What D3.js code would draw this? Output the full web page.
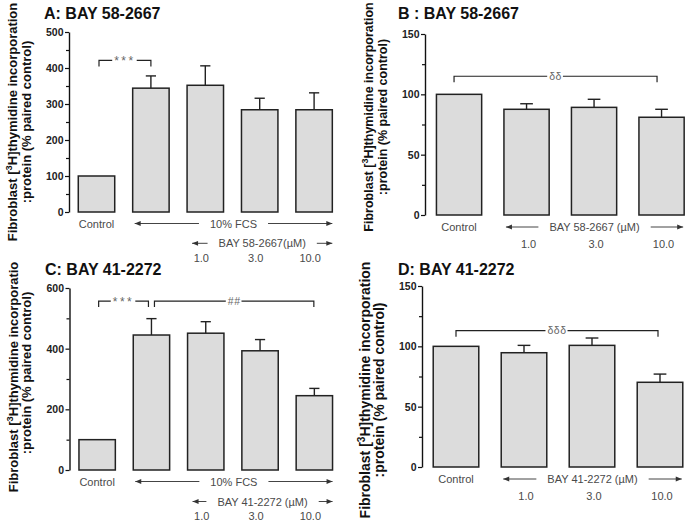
<!DOCTYPE html>
<html><head><meta charset="utf-8">
<script src="https://cdn.jsdelivr.net/npm/d3@7"></script>
<style>
body{margin:0;background:#fff}
svg{display:block}
text{font-family:"Liberation Sans",Arial,Helvetica,sans-serif}
</style>
</head><body>
<svg id="c" width="689" height="523"></svg>
<script>
// ---------- data ----------
const titles = ["A: BAY 58-2667", "B : BAY 58-2667", "C: BAY 41-2272", "D: BAY 41-2272"];
const groupsFCS = ["Control", "FCS", "FCS + 1.0", "FCS + 3.0", "FCS + 10.0"];
const groupsDose = ["Control", "1.0", "3.0", "10.0"];
const meanA = [100, 344, 352, 284, 284];
const semA  = [0, 34, 54, 32, 47];
const meanB = [100, 87.6, 89.2, 81.0];
const semB  = [0, 4.6, 6.7, 6.6];
const meanC = [100, 445, 451, 393, 245];
const semC  = [0, 54, 38, 37, 24];
const meanD = [100, 94.7, 100.8, 70.2];
const semD  = [0, 6.1, 6.1, 6.8];
const ticksA = [0, 100, 200, 300, 400, 500];
const ticksB = [0, 50, 100, 150];
const ticksC = [0, 200, 400, 600];
const ticksD = [0, 50, 100, 150];
const doseLabels = ["1.0", "3.0", "10.0"];
const fcsLabel = "10% FCS";
const drugA = "BAY 58-2667(\u00b5M)";
const drugB = "BAY 58-2667 (\u00b5M)";
const drugC = "BAY 41-2272 (\u00b5M)";
const drugD = "BAY 41-2272 (\u00b5M)";
const sigA = [{from: 0, to: 1, level: 421, label: "***"}];
const sigB = [{from: 0, to: 3, level: 115, label: "\u03b4\u03b4"}];
const sigC = [{from: 0, to: 1, level: 557, label: "***"}, {from: 1, to: 4, level: 557, label: "##"}];
const sigD = [{from: 0, to: 3, level: 113, label: "\u03b4\u03b4\u03b4"}];
const yLabel1a = "Fibroblast [", yLabelSup = "3", yLabel1b = "H]thymidine incorporation";
const yLabel2 = ":protein (% paired control)";

// ---------- layout ----------
const panels = [
  {mean: meanA, sem: semA, ticks: ticksA, groups: groupsFCS, sig: sigA, title: titles[0], drug: drugA, fcs: true,
   axisX: 69, xr: [69.3, 341.3], yr: [212, 32], tx: 44, ty: 19, lblCY: 122, lblSize: 13, rows: [223.5, 243.3, 258], clip: false,
   sigOff: [[2.5, 0]]},
  {mean: meanB, sem: semB, ticks: ticksB, groups: groupsDose, sig: sigB, title: titles[1], drug: drugB, fcs: false,
   axisX: 425, xr: [425.3, 695.3], yr: [215, 34], tx: 398, ty: 19, lblCY: 117, lblSize: 12.5, rows: [227, 243.5], clip: false,
   sigOff: [[-5, -4.5]]},
  {mean: meanC, sem: semC, ticks: ticksC, groups: groupsFCS, sig: sigC, title: titles[2], drug: drugC, fcs: true,
   axisX: 69.5, xr: [70, 341.5], yr: [470, 288], tx: 45, ty: 274.5, lblCY: 373, lblSize: 13, rows: [481.5, 501.5, 515.5], clip: true,
   sigOff: [[1.5, -3], [3, -0.5]]},
  {mean: meanD, sem: semD, ticks: ticksD, groups: groupsDose, sig: sigD, title: titles[3], drug: drugD, fcs: false,
   axisX: 422, xr: [422, 694], yr: [467, 286], tx: 398, ty: 275, lblCY: 390, lblSize: 14, rows: [479, 495.5], clip: true,
   sigOff: [[0, -2]]}
];

const svg = d3.select("#c");
svg.append("rect").attr("width", 689).attr("height", 523).attr("fill", "#fff");
const defs = svg.append("defs");
defs.append("clipPath").attr("id", "clipBottom").append("rect")
  .attr("x", 0).attr("y", 262).attr("width", 689).attr("height", 261);

const grayText = "#4a4a4a";
const catSize = 11;

function arrowHead(g, x, y, dir) {
  const L = 6, H = 2.4;
  g.append("path")
    .attr("d", `M${x},${y} L${x - dir * L},${y - H} L${x - dir * L},${y + H} Z`)
    .attr("fill", "#333");
}

function arrowLabel(g, x1, x2, y, label) {
  const t = g.append("text").attr("x", (x1 + x2) / 2).attr("y", y + 4)
    .attr("text-anchor", "middle").attr("font-size", catSize).attr("fill", grayText).text(label);
  const w = t.node().getComputedTextLength();
  const cx = (x1 + x2) / 2, gap = 11;
  g.append("line").attr("x1", x1).attr("x2", cx - w / 2 - gap).attr("y1", y).attr("y2", y)
    .attr("stroke", "#444").attr("stroke-width", 1);
  g.append("line").attr("x1", cx + w / 2 + gap).attr("x2", x2).attr("y1", y).attr("y2", y)
    .attr("stroke", "#444").attr("stroke-width", 1);
  arrowHead(g, x1, y, -1);
  arrowHead(g, x2, y, 1);
}

panels.forEach(p => {
  const g = svg.append("g");
  const n = p.mean.length;
  const x = d3.scaleBand().domain(p.groups).range(p.xr).paddingInner(0.33).paddingOuter(0.165);
  const ymax = p.ticks[p.ticks.length - 1];
  const y = d3.scaleLinear().domain([0, ymax]).range(p.yr);
  const bw = x.bandwidth();
  const cx = i => x(p.groups[i]) + bw / 2;

  // title
  g.append("text").attr("x", p.tx).attr("y", p.ty).attr("font-size", 16).attr("font-weight", "bold")
    .attr("fill", "#111").text(p.title);

  // y label
  const lg = g.append("g");
  if (p.clip) lg.attr("clip-path", "url(#clipBottom)");
  const l1 = lg.append("text").attr("transform", `translate(${p.axisX - 52},${p.lblCY}) rotate(-90)`)
    .attr("text-anchor", "middle").attr("font-size", p.lblSize).attr("font-weight", "bold").attr("fill", "#111");
  l1.append("tspan").text(yLabel1a);
  l1.append("tspan").attr("dy", -5).attr("font-size", p.lblSize * 0.72).text(yLabelSup);
  l1.append("tspan").attr("dy", 5).text(yLabel1b);
  lg.append("text").attr("transform", `translate(${p.axisX - 38.5},${p.lblCY}) rotate(-90)`)
    .attr("text-anchor", "middle").attr("font-size", p.lblSize).attr("font-weight", "bold").attr("fill", "#111")
    .text(yLabel2);

  // axis
  const minor = [];
  for (let i = 0; i < p.ticks.length - 1; i++) minor.push((p.ticks[i] + p.ticks[i + 1]) / 2);
  const ax = g.append("g").attr("transform", `translate(${p.axisX},0)`)
    .call(d3.axisLeft(y).tickValues(p.ticks).tickSize(4).tickSizeOuter(0).tickPadding(1.5).tickFormat(d3.format("d")));
  ax.select(".domain").attr("stroke", "#111").attr("stroke-width", 1.4);
  ax.selectAll(".tick line").attr("stroke", "#111").attr("stroke-width", 1.2);
  ax.selectAll(".tick text").attr("font-size", 10.5).attr("font-weight", "bold").attr("fill", "#222")
    .attr("font-family", "Liberation Sans, Arial, sans-serif");
  const axm = g.append("g").attr("transform", `translate(${p.axisX},0)`)
    .call(d3.axisLeft(y).tickValues(minor).tickSize(3).tickFormat(""));
  axm.select(".domain").remove();
  axm.selectAll(".tick line").attr("stroke", "#111").attr("stroke-width", 1.2);

  // error bars
  const capW = bw * 0.28;
  p.mean.forEach((m, i) => {
    if (p.sem[i] > 0) {
      const xc = cx(i);
      g.append("line").attr("x1", xc).attr("x2", xc).attr("y1", y(m)).attr("y2", y(m + p.sem[i]))
        .attr("stroke", "#222").attr("stroke-width", 1.4);
      g.append("line").attr("x1", xc - capW / 2).attr("x2", xc + capW / 2)
        .attr("y1", y(m + p.sem[i])).attr("y2", y(m + p.sem[i]))
        .attr("stroke", "#222").attr("stroke-width", 1.4);
    }
  });

  // bars
  g.selectAll("rect.bar").data(p.mean).join("rect").attr("class", "bar")
    .attr("x", (d, i) => x(p.groups[i])).attr("width", bw)
    .attr("y", d => y(d)).attr("height", d => y(0) - y(d))
    .attr("fill", "#dcdcdc").attr("stroke", "#222").attr("stroke-width", 1.5);

  // significance brackets
  p.sig.forEach((s, k) => {
    const off = p.sigOff[k];
    const x1 = cx(s.from) + off[0], x2 = cx(s.to) + off[1], yy = y(s.level);
    const star = s.label.indexOf("*") >= 0;
    const t = g.append("text").attr("x", (x1 + x2) / 2).attr("y", yy + (star ? 5 : 3.5)).attr("text-anchor", "middle")
      .attr("font-size", star ? 12 : 10.5).attr("letter-spacing", star ? 2.5 : 0.5)
      .attr("fill", "#666").text(s.label);
    const w = t.node().getComputedTextLength();
    const m = (x1 + x2) / 2;
    g.append("path")
      .attr("d", `M${x1},${yy + 6} L${x1},${yy} L${m - w / 2 - 2},${yy} M${m + w / 2 + 1},${yy} L${x2},${yy} L${x2},${yy + 6}`)
      .attr("fill", "none").attr("stroke", "#222").attr("stroke-width", 1.2);
  });

  // category annotations
  g.append("text").attr("x", cx(0)).attr("y", p.rows[0] + 4).attr("text-anchor", "middle")
    .attr("font-size", catSize).attr("fill", grayText).text(p.groups[0]);
  if (p.fcs) {
    arrowLabel(g, x(p.groups[1]) + 2, x(p.groups[n - 1]) + bw, p.rows[0], fcsLabel);
    arrowLabel(g, x(p.groups[2]) + 5, x(p.groups[n - 1]) + bw, p.rows[1], p.drug);
    doseLabels.forEach((d, i) => {
      g.append("text").attr("x", cx(i + 2) - 4).attr("y", p.rows[2] + 4).attr("text-anchor", "middle")
        .attr("font-size", catSize).attr("fill", grayText).text(d);
    });
  } else {
    arrowLabel(g, x(p.groups[1]) + 2, x(p.groups[n - 1]) + bw - 1, p.rows[0], p.drug);
    doseLabels.forEach((d, i) => {
      g.append("text").attr("x", cx(i + 1) + 2).attr("y", p.rows[1] + 4).attr("text-anchor", "middle")
        .attr("font-size", catSize).attr("fill", grayText).text(d);
    });
  }
});
</script>
</body></html>
